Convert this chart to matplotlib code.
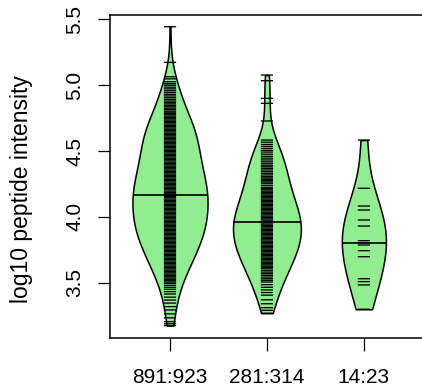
import numpy as np
import matplotlib
matplotlib.use('Agg')
import matplotlib.pyplot as plt
from matplotlib.mlab import GaussianKDE

plt.rcParams['font.family'] = ['Liberation Sans', 'DejaVu Sans']

categories = ['891:923', '281:314', '14:23']
y_ticks = [3.5, 4.0, 4.5, 5.0, 5.5]
y_tick_labels = ['3.5', '4.0', '4.5', '5.0', '5.5']
y_label = 'log10 peptide intensity'

# bean 1 (891:923): distinct log10 intensities, with multiplicities
bean1_values = [
    3.174, 3.188, 3.204, 3.233, 3.263, 3.293, 3.318, 3.345, 3.368, 3.390,
    3.414, 3.432, 3.450, 3.465, 3.480, 3.495,
    3.505, 3.515, 3.525, 3.535, 3.545, 3.555, 3.565, 3.575, 3.585, 3.595,
    3.605, 3.615, 3.625, 3.635, 3.645, 3.655, 3.665, 3.675, 3.685, 3.695,
    3.705, 3.715, 3.725, 3.735, 3.745, 3.755, 3.765, 3.775, 3.785, 3.795,
    3.805, 3.815, 3.825, 3.835, 3.845, 3.855, 3.865, 3.875, 3.885, 3.895,
    3.905, 3.915, 3.925, 3.935, 3.945, 3.955, 3.965, 3.975, 3.985, 3.995,
    4.005, 4.015, 4.025, 4.035, 4.045, 4.055, 4.065, 4.075, 4.085, 4.095,
    4.105, 4.115, 4.125, 4.135, 4.145, 4.155, 4.165, 4.175, 4.185, 4.195,
    4.205, 4.215, 4.225, 4.235, 4.245, 4.255, 4.265, 4.275, 4.285, 4.295,
    4.305, 4.315, 4.325, 4.335, 4.345, 4.355, 4.365, 4.375, 4.385, 4.395,
    4.405, 4.415, 4.425, 4.435, 4.445, 4.455, 4.465, 4.475, 4.485, 4.495,
    4.505, 4.515, 4.525, 4.535, 4.545, 4.555, 4.565, 4.575, 4.585, 4.595,
    4.605, 4.615, 4.625, 4.635, 4.645, 4.655, 4.665, 4.675, 4.685, 4.695,
    4.705, 4.715, 4.725, 4.735, 4.745, 4.755, 4.765, 4.775, 4.785, 4.795,
    4.803, 4.814, 4.825, 4.836, 4.847, 4.858, 4.869, 4.880, 4.892,
    4.905, 4.918, 4.930, 4.944, 4.958, 4.972, 4.985,
    5.000, 5.012, 5.026, 5.048, 5.064,
    5.173, 5.444,
]
bean1_counts = [
    1, 1, 1, 1, 1, 1, 1, 1, 1, 1,
    1, 1, 1, 1, 1, 1,
    1, 1, 1, 1, 1, 1, 1, 1, 1, 1,
    2, 2, 1, 2, 1, 2, 1, 2, 1, 2,
    2, 2, 2, 2, 2, 2, 2, 2, 2, 2,
    2, 2, 2, 2, 3, 3, 3, 3, 3, 3,
    2, 3, 2, 3, 2, 3, 2, 3, 2, 3,
    3, 3, 3, 3, 3, 2, 3, 2, 3, 2,
    3, 3, 3, 3, 3, 3, 3, 3, 2, 2,
    3, 3, 3, 3, 3, 3, 3, 3, 2, 2,
    3, 3, 2, 2, 2, 2, 2, 2, 2, 2,
    3, 3, 2, 2, 2, 2, 2, 2, 3, 2,
    2, 2, 2, 2, 2, 2, 2, 2, 2, 2,
    2, 2, 2, 2, 2, 2, 2, 2, 2, 2,
    2, 2, 2, 2, 1, 2, 1, 1, 1, 1,
    1, 1, 1, 1, 1, 1, 1, 1, 1,
    1, 1, 1, 1, 1, 1, 1,
    1, 1, 1, 1, 1,
    1, 1,
]

# bean 2 (281:314)
bean2_values = [
    3.268, 3.290, 3.310, 3.340, 3.370,
    3.405, 3.425, 3.445, 3.465, 3.485,
    3.505, 3.518, 3.530, 3.543, 3.556, 3.568, 3.580, 3.592,
    3.605, 3.615, 3.625, 3.635, 3.645, 3.655, 3.665, 3.675, 3.685, 3.695,
    3.705, 3.715, 3.725, 3.735, 3.745, 3.755, 3.765, 3.775, 3.785, 3.795,
    3.805, 3.815, 3.825, 3.835, 3.845, 3.855, 3.865, 3.875, 3.885, 3.895,
    3.905, 3.915, 3.925, 3.935, 3.945, 3.955, 3.965, 3.975, 3.985, 3.995,
    4.005, 4.015, 4.025, 4.035, 4.045, 4.055, 4.065, 4.075, 4.085, 4.095,
    4.105, 4.115, 4.125, 4.135, 4.145, 4.155, 4.165, 4.175, 4.185, 4.195,
    4.205, 4.215, 4.225, 4.240, 4.255, 4.265, 4.275, 4.285, 4.295,
    4.305, 4.318, 4.330, 4.343, 4.356, 4.368, 4.380, 4.392,
    4.405, 4.418, 4.432, 4.446, 4.460, 4.476, 4.492,
    4.505, 4.520, 4.535, 4.550, 4.567, 4.583,
    4.728, 4.862, 4.900, 5.034, 5.077,
]
bean2_counts = [
    1, 1, 1, 1, 1,
    1, 1, 1, 1, 1,
    1, 1, 1, 1, 1, 1, 1, 1,
    1, 1, 1, 1, 1, 1, 1, 1, 1, 1,
    1, 2, 1, 2, 1, 2, 1, 1, 1, 1,
    2, 1, 2, 1, 2, 1, 2, 1, 2, 1,
    2, 1, 2, 1, 2, 1, 2, 1, 2, 1,
    2, 1, 2, 1, 2, 1, 1, 1, 1, 1,
    2, 1, 1, 1, 1, 1, 1, 1, 1, 1,
    1, 1, 1, 1, 1, 1, 1, 1, 1,
    1, 1, 1, 1, 1, 1, 1, 1,
    1, 1, 1, 1, 1, 1, 1,
    1, 1, 1, 1, 1, 1,
    1, 1, 1, 1, 1,
]

# bean 3 (14:23)
bean3_values = [3.298, 3.483, 3.508, 3.530, 3.697, 3.743, 3.786, 3.804,
                3.819, 3.930, 3.976, 4.052, 4.082, 4.217, 4.583]

data = [np.repeat(bean1_values, bean1_counts),
        np.repeat(bean2_values, bean2_counts),
        np.asarray(bean3_values)]

positions = [1, 2, 3]
bean_widths = [0.775, 0.70, 0.455]
bw_scale = [1.15, 1.1, 1.3]
line_half = 0.063
fill_col = '#90EE90'


def make_bw(scale):
    def bw(kde):
        x = np.ravel(kde.dataset)
        sd = np.std(x, ddof=1)
        q75, q25 = np.percentile(x, [75, 25])
        h = 0.9 * min(sd, (q75 - q25) / 1.34) * len(x) ** -0.2
        return scale * h / sd
    return bw


fig = plt.figure(figsize=(4.22, 3.91), dpi=100)
W, H = 422.0, 391.0
ax = fig.add_axes([109.5 / W, 1 - 337.7 / H, (424 - 109.5) / W, (337.7 - 15) / H])

for d, p, w, s in zip(data, positions, bean_widths, bw_scale):
    bwf = make_bw(s)
    vp = ax.violinplot([d], positions=[p], widths=w, showextrema=False,
                       points=300, bw_method=bwf)
    for body in vp['bodies']:
        body.set_facecolor(fill_col)
        body.set_edgecolor('black')
        body.set_linewidth(1.1)
        body.set_alpha(1)
        body.set_zorder(2)
    u = np.unique(d)
    lc = ax.hlines(u, p - line_half, p + line_half, colors='black',
                   linewidth=0.95, zorder=3)
    lc.set_snap(False)
    kde = GaussianKDE(d, bw_method=bwf)
    grid = np.linspace(d.min(), d.max(), 300)
    dens = kde.evaluate(grid)
    med = np.median(d)
    half = w / 2 * kde.evaluate([med])[0] / dens.max()
    ax.hlines(med, p - half, p + half, colors='black', linewidth=1.2, zorder=4)

ax.set_xlim(0.376, 3.62)
ax.set_ylim(3.082, 5.533)
ax.set_xticks(positions)
ax.set_xticklabels(categories)
ax.set_yticks(y_ticks)
ax.set_yticklabels(y_tick_labels)
for lab in ax.get_yticklabels():
    lab.set_rotation(90)
    lab.set_va('center')
ax.tick_params(axis='both', length=9, width=0.9, labelsize=15, color='black')
ax.tick_params(axis='x', pad=13)
ax.tick_params(axis='y', pad=9)
for sp in ax.spines.values():
    sp.set_linewidth(1.1)
ax.set_ylabel(y_label, fontsize=16.5)
ax.yaxis.set_label_coords((33 - 109.5) / 314.5, (337.7 - 189) / 322.7)

fig.savefig('out.png', dpi=100)
